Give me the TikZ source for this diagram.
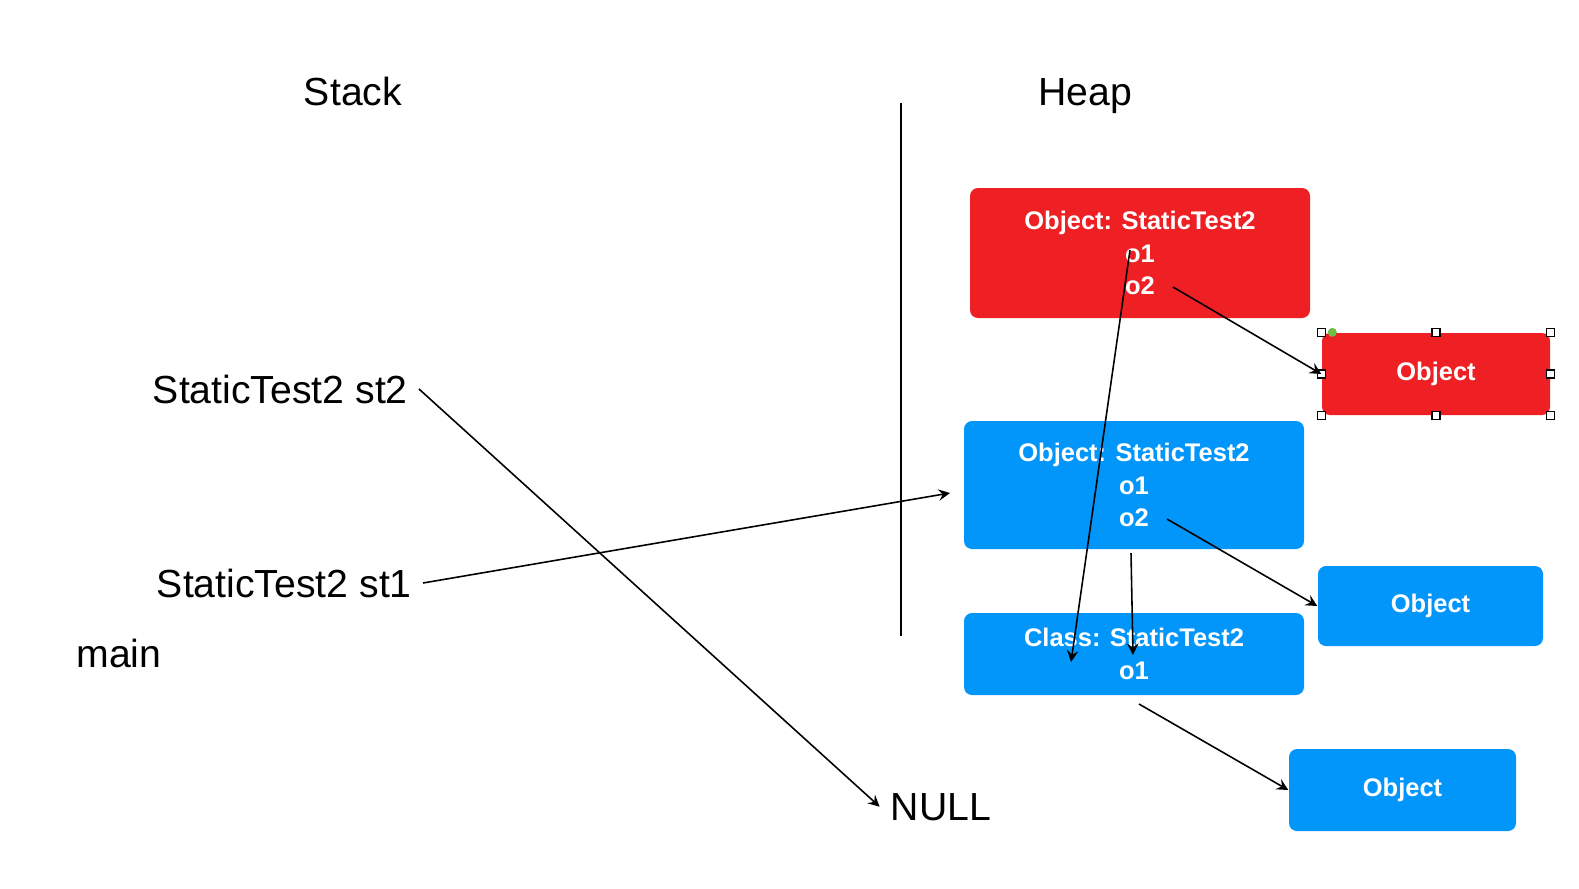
\documentclass[tikz,border=0pt]{standalone}
\usepackage{fontspec}
\setmainfont{Liberation Sans}
\definecolor{boxred}{RGB}{238,32,36}
\definecolor{boxblue}{RGB}{3,150,250}
\definecolor{handlegreen}{RGB}{110,190,70}
\tikzset{
  word/.style={font=\fontsize{11.15}{13}\selectfont, inner sep=3pt},
  heapbox/.style={rounded corners=0.08cm, text=white, inner sep=0pt, align=center,
    font=\fontsize{7.25}{9.3}\selectfont\bfseries},
  redbox/.style={heapbox, fill=boxred},
  bluebox/.style={heapbox, fill=boxblue},
  handlebox/.style={draw, fill=white, line width=0.3pt, minimum size=0.08cm, inner sep=0pt},
  ptr/.style={line width=0.45pt, -stealth}
}
\begin{document}
\begin{tikzpicture}
 \useasboundingbox (0,0) rectangle (15.79,-8.88);
 \node[word, anchor=base] at (3.53,-1.05) (stack) {Stack};
 \node[word, anchor=base] at (10.85,-1.05) (heap) {Heap};
 \node[word, anchor=base east] at (4.19,-4.03) (st2) {StaticTest2 st2};
 \node[word, anchor=base east] at (4.23,-5.97) (st1) {StaticTest2 st1};
 \node[word, anchor=base] at (1.19,-6.67) (main) {main};
 \node[word, anchor=base] at (9.41,-8.20) (null) {NULL};

 \node[redbox, minimum width=3.40cm, minimum height=1.30cm] at (11.40,-2.53) (objtop) {Object: StaticTest2\\o1\\o2};
 \node[redbox, minimum width=2.28cm, minimum height=0.82cm] at (14.36,-3.74) (redobj) {Object};
 \node[bluebox, minimum width=3.40cm, minimum height=1.28cm] at (11.34,-4.85) (objmid) {Object: StaticTest2\\o1\\o2};
 \node[bluebox, minimum width=2.25cm, minimum height=0.80cm] at (14.305,-6.06) (blueobj) {Object};
 \node[bluebox, minimum width=3.40cm, minimum height=0.82cm] at (11.34,-6.54) (cls) {Class: StaticTest2\\o1};
 \node[bluebox, minimum width=2.27cm, minimum height=0.82cm] at (14.025,-7.90) (botobj) {Object};

 \foreach \a in {north west,north,north east,west,east,south west,south,south east}
   \node[handlebox] at (redobj.\a) {};
 \fill[handlegreen] ([xshift=0.11cm]redobj.north west) circle (0.045cm);

 \coordinate (divtop) at (9.01,-1.03);
 \coordinate (divbot) at (9.01,-6.36);
 \coordinate (midin) at (9.50,-4.93);
 \coordinate (topo1) at (11.30,-2.50);
 \coordinate (topo2) at (11.73,-2.87);
 \coordinate (clso1) at (10.71,-6.62);
 \coordinate (mido2) at (11.67,-5.19);
 \coordinate (midfoot) at (11.31,-5.53);
 \coordinate (clsin) at (11.33,-6.55);
 \coordinate (clsout) at (11.39,-7.04);

 \draw[line width=0.45pt] (divtop) -- (divbot);
 \draw[ptr] (st2.east) -- (null.west);
 \draw[ptr] (st1.east) -- (midin);
 \draw[ptr] (topo2) -- (redobj.west);
 \draw[ptr] (topo1) -- (clso1);
 \draw[ptr] (mido2) -- (blueobj.west);
 \draw[ptr] (midfoot) -- (clsin);
 \draw[ptr] (clsout) -- (botobj.west);
\end{tikzpicture}
\end{document}
